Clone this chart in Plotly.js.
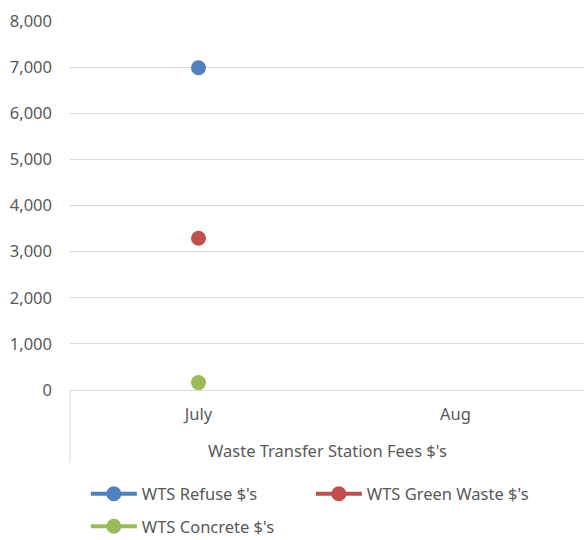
<!DOCTYPE html>
<html>
<head>
<meta charset="utf-8">
<script src="https://cdn.plot.ly/plotly-3.0.1.min.js"></script>
<style>html,body{margin:0;padding:0;background:#fff;}#chart{width:584px;height:540px;}</style>
</head>
<body>
<div id="chart"></div>
<script>
var categories = ["July", "Aug"];
var groupLabel = "Waste Transfer Station Fees $'s";
var seriesNames = ["WTS Refuse $'s", "WTS Green Waste $'s", "WTS Concrete $'s"];
var refuse = [6985, null];
var greenWaste = [3290, null];
var concrete = [160, null];
var yTickVals = [0, 1000, 2000, 3000, 4000, 5000, 6000, 7000, 8000];

var colors = ["#4F81BD", "#C0504D", "#9BBB59"];
var seriesValues = [refuse, greenWaste, concrete];
var FONT = "Noto Sans, Open Sans, sans-serif";
var TXT = "#595959";
var FS = 16.5;

var traces = seriesValues.map(function (vals, i) {
  return {
    type: "scatter",
    mode: "lines+markers",
    x: categories,
    y: vals,
    name: seriesNames[i],
    legend: i < 2 ? "legend" : "legend2",
    line: {color: colors[i], width: 4},
    marker: {color: colors[i], size: 15},
    connectgaps: false,
    cliponaxis: false
  };
});

var layout = {
  width: 584,
  height: 540,
  margin: {l: 70, r: 0, t: 21, b: 150, autoexpand: false},
  paper_bgcolor: "#ffffff",
  plot_bgcolor: "#ffffff",
  font: {family: FONT, size: FS, color: TXT},
  showlegend: true,
  xaxis: {
    type: "category",
    range: [-0.5, 1.5],
    automargin: false,
    showgrid: false,
    showline: true,
    linecolor: "#d9d9d9",
    linewidth: 1,
    ticks: "",
    ticklabelstandoff: 9,
    tickfont: {family: FONT, size: FS, color: TXT},
    zeroline: false,
    fixedrange: true
  },
  yaxis: {
    range: [0, 8000],
    automargin: false,
    tickvals: yTickVals,
    tickformat: ",d",
    showgrid: true,
    gridcolor: "#d9d9d9",
    gridwidth: 1,
    zeroline: false,
    showline: false,
    ticks: "",
    ticklabelstandoff: 17,
    tickfont: {family: FONT, size: FS, color: TXT},
    fixedrange: true
  },
  annotations: [{
    text: groupLabel,
    xref: "paper", yref: "paper",
    x: 0.5, y: -0.163,
    xanchor: "center", yanchor: "middle",
    showarrow: false,
    font: {family: FONT, size: FS, color: TXT}
  }],
  shapes: [{
    type: "line",
    xref: "paper", yref: "paper",
    x0: 0, x1: 0, y0: 0, y1: -0.198,
    line: {color: "#d9d9d9", width: 1}
  }],
  legend: {
    orientation: "h",
    xref: "container", yref: "container",
    x: 0.147, y: 0.0852,
    xanchor: "left", yanchor: "middle",
    itemwidth: 46,
    entrywidth: 164,
    entrywidthmode: "pixels",
    font: {family: FONT, size: FS, color: TXT},
    bgcolor: "rgba(0,0,0,0)"
  },
  legend2: {
    orientation: "h",
    xref: "container", yref: "container",
    x: 0.147, y: 0.025,
    xanchor: "left", yanchor: "middle",
    itemwidth: 46,
    font: {family: FONT, size: FS, color: TXT},
    bgcolor: "rgba(0,0,0,0)"
  }
};

Plotly.newPlot("chart", traces, layout, {displayModeBar: false, staticPlot: true});
</script>
</body>
</html>
